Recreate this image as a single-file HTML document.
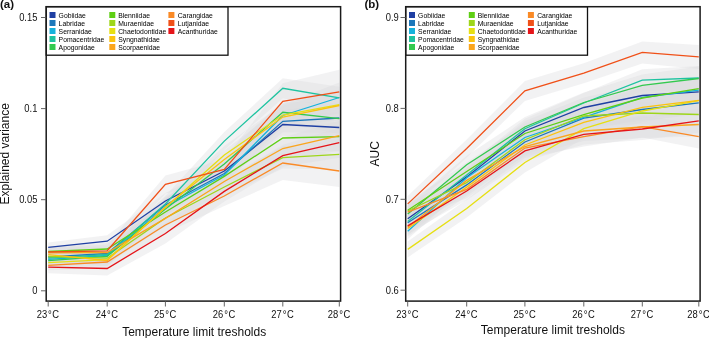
<!DOCTYPE html>
<html><head><meta charset="utf-8"><style>
html,body{margin:0;padding:0;background:#fff;}
svg{display:block;will-change:transform;filter:blur(0.3px);}
text{font-family:"Liberation Sans",sans-serif;fill:#1a1a1a;}
.lg{font-size:6.8px;fill:#000;}
.tl{font-size:10px;fill:#111;}
.at{font-size:12px;fill:#111;}
.pl{font-size:11.5px;font-weight:bold;fill:#111;}
.tk{stroke:#555;stroke-width:0.9;}
.bands polygon{fill:#dadbdf;fill-opacity:0.36;stroke:none;}
.ln polyline{fill:none;stroke-width:1.3;stroke-linejoin:miter;}
</style></head><body>
<svg width="709" height="338" viewBox="0 0 709 338">
<rect width="709" height="338" fill="#fff"/>

<g class="bands"><polygon points="48.2,242.4 107.2,235.2 165.4,193.0 224.3,162.0 282.8,113.5 339.3,112.5 339.3,142.5 282.8,135.5 224.3,180.0 165.4,209.0 107.2,247.2 48.2,252.4"/>
<polygon points="48.2,252.0 107.2,247.5 165.4,197.0 224.3,164.5 282.8,110.3 339.3,103.0 339.3,133.0 282.8,132.3 224.3,182.5 165.4,213.0 107.2,259.5 48.2,262.0"/>
<polygon points="48.2,254.4 107.2,249.5 165.4,199.0 224.3,166.0 282.8,104.5 339.3,82.5 339.3,112.5 282.8,126.5 224.3,184.0 165.4,215.0 107.2,261.5 48.2,264.4"/>
<polygon points="48.2,253.1 107.2,248.5 165.4,196.0 224.3,132.1 282.8,78.3 339.3,86.8 339.3,108.8 282.8,98.3 224.3,150.1 165.4,212.0 107.2,260.5 48.2,263.1"/>
<polygon points="48.2,255.7 107.2,250.3 165.4,201.0 224.3,155.0 282.8,101.3 339.3,103.7 339.3,133.7 282.8,123.3 224.3,173.0 165.4,217.0 107.2,262.3 48.2,265.7"/>
<polygon points="48.2,246.5 107.2,243.0 165.4,204.0 224.3,167.4 282.8,127.0 339.3,121.6 339.3,151.6 282.8,149.0 224.3,185.4 165.4,220.0 107.2,255.0 48.2,256.5"/>
<polygon points="48.2,251.5 107.2,252.2 165.4,210.0 224.3,178.0 282.8,146.6 339.3,139.4 339.3,169.4 282.8,168.6 224.3,196.0 165.4,226.0 107.2,264.2 48.2,261.5"/>
<polygon points="48.2,257.7 107.2,253.7 165.4,199.5 224.3,146.0 282.8,104.0 339.3,89.6 339.3,119.6 282.8,126.0 224.3,164.0 165.4,215.5 107.2,265.7 48.2,267.7"/>
<polygon points="48.2,249.6 107.2,254.5 165.4,199.0 224.3,150.4 282.8,106.0 339.3,90.5 339.3,120.5 282.8,128.0 224.3,168.4 165.4,215.0 107.2,266.5 48.2,259.6"/>
<polygon points="48.2,247.8 107.2,246.5 165.4,210.4 224.3,172.5 282.8,137.5 339.3,120.7 339.3,150.7 282.8,159.5 224.3,190.5 165.4,226.4 107.2,258.5 48.2,257.8"/>
<polygon points="48.2,260.3 107.2,256.0 165.4,217.0 224.3,186.0 282.8,146.0 339.3,155.0 339.3,187.0 282.8,180.0 224.3,206.0 165.4,233.0 107.2,268.0 48.2,270.3"/>
<polygon points="48.2,247.0 107.2,244.8 165.4,175.4 224.3,159.5 282.8,83.3 339.3,69.8 339.3,113.8 282.8,119.3 224.3,179.5 165.4,193.4 107.2,256.8 48.2,257.0"/>
<polygon points="48.2,261.2 107.2,261.5 165.4,223.5 224.3,181.4 282.8,144.7 339.3,127.7 339.3,157.7 282.8,166.7 224.3,201.4 165.4,243.5 107.2,275.5 48.2,273.2"/></g>
<g class="ln"><polyline points="48.2,247.4 107.2,241.2 165.4,201.0 224.3,171.0 282.8,124.5 339.3,127.5" stroke="#1f3fa3"/>
<polyline points="48.2,257.0 107.2,253.5 165.4,205.0 224.3,173.5 282.8,121.3 339.3,118.0" stroke="#1c77ba"/>
<polyline points="48.2,259.4 107.2,255.5 165.4,207.0 224.3,175.0 282.8,115.5 339.3,97.5" stroke="#16b2dc"/>
<polyline points="48.2,258.1 107.2,254.5 165.4,204.0 224.3,141.1 282.8,88.3 339.3,97.8" stroke="#1ec3a0"/>
<polyline points="48.2,260.7 107.2,256.3 165.4,209.0 224.3,164.0 282.8,112.3 339.3,118.7" stroke="#33c94f"/>
<polyline points="48.2,251.5 107.2,249.0 165.4,212.0 224.3,176.4 282.8,138.0 339.3,136.6" stroke="#5ecf14"/>
<polyline points="48.2,256.5 107.2,258.2 165.4,218.0 224.3,187.0 282.8,157.6 339.3,154.4" stroke="#9ed61a"/>
<polyline points="48.2,262.7 107.2,259.7 165.4,207.5 224.3,155.0 282.8,115.0 339.3,104.6" stroke="#e6df12"/>
<polyline points="48.2,254.6 107.2,260.5 165.4,207.0 224.3,159.4 282.8,117.0 339.3,105.5" stroke="#fbc30e"/>
<polyline points="48.2,252.8 107.2,252.5 165.4,218.4 224.3,181.5 282.8,148.5 339.3,135.7" stroke="#fba51c"/>
<polyline points="48.2,265.3 107.2,262.0 165.4,225.0 224.3,196.0 282.8,163.0 339.3,171.0" stroke="#fa8a26"/>
<polyline points="48.2,252.0 107.2,250.8 165.4,184.4 224.3,169.5 282.8,101.3 339.3,91.8" stroke="#f05018"/>
<polyline points="48.2,267.2 107.2,268.5 165.4,233.5 224.3,191.4 282.8,155.7 339.3,142.7" stroke="#e51419"/></g>
<rect x="46.2" y="6.7" width="181.8" height="48.5" fill="#fff" stroke="#111" stroke-width="1.3"/>
<rect x="49.5" y="12.0" width="6" height="6" fill="#1f3fa3"/>
<text transform="translate(58.6,17.6) scale(1,1)" class="lg">Gobiidae</text>
<rect x="49.5" y="20.0" width="6" height="6" fill="#1c77ba"/>
<text transform="translate(58.6,25.6) scale(1,1)" class="lg">Labridae</text>
<rect x="49.5" y="28.0" width="6" height="6" fill="#16b2dc"/>
<text transform="translate(58.6,33.6) scale(1,1)" class="lg">Serranidae</text>
<rect x="49.5" y="36.0" width="6" height="6" fill="#1ec3a0"/>
<text transform="translate(58.6,41.6) scale(1,1)" class="lg">Pomacentridae</text>
<rect x="49.5" y="44.0" width="6" height="6" fill="#33c94f"/>
<text transform="translate(58.6,49.6) scale(1,1)" class="lg">Apogonidae</text>
<rect x="109.3" y="12.0" width="6" height="6" fill="#5ecf14"/>
<text transform="translate(118.2,17.6) scale(1,1)" class="lg">Blenniidae</text>
<rect x="109.3" y="20.0" width="6" height="6" fill="#9ed61a"/>
<text transform="translate(118.2,25.6) scale(1,1)" class="lg">Muraenidae</text>
<rect x="109.3" y="28.0" width="6" height="6" fill="#e6df12"/>
<text transform="translate(118.2,33.6) scale(1,1)" class="lg">Chaetodontidae</text>
<rect x="109.3" y="36.0" width="6" height="6" fill="#fbc30e"/>
<text transform="translate(118.2,41.6) scale(1,1)" class="lg">Syngnathidae</text>
<rect x="109.3" y="44.0" width="6" height="6" fill="#fba51c"/>
<text transform="translate(118.2,49.6) scale(1,1)" class="lg">Scorpaenidae</text>
<rect x="168.4" y="12.0" width="6" height="6" fill="#fa8a26"/>
<text transform="translate(177.7,17.6) scale(1,1)" class="lg">Carangidae</text>
<rect x="168.4" y="20.0" width="6" height="6" fill="#f05018"/>
<text transform="translate(177.7,25.6) scale(1,1)" class="lg">Lutjanidae</text>
<rect x="168.4" y="28.0" width="6" height="6" fill="#e51419"/>
<text transform="translate(177.7,33.6) scale(1,1)" class="lg">Acanthuridae</text>
<rect x="46.2" y="6.7" width="294.4" height="294.4" fill="none" stroke="#1a1a1a" stroke-width="1.5"/>
<line x1="48.2" y1="301" x2="48.2" y2="306.5" class="tk"/>
<text transform="translate(47.9,317.6) scale(0.94,1)" class="tl" text-anchor="middle">23<tspan dx="1.0">°</tspan><tspan dx="0.5">C</tspan></text>
<line x1="107.2" y1="301" x2="107.2" y2="306.5" class="tk"/>
<text transform="translate(106.9,317.6) scale(0.94,1)" class="tl" text-anchor="middle">24<tspan dx="1.0">°</tspan><tspan dx="0.5">C</tspan></text>
<line x1="165.4" y1="301" x2="165.4" y2="306.5" class="tk"/>
<text transform="translate(165.1,317.6) scale(0.94,1)" class="tl" text-anchor="middle">25<tspan dx="1.0">°</tspan><tspan dx="0.5">C</tspan></text>
<line x1="224.3" y1="301" x2="224.3" y2="306.5" class="tk"/>
<text transform="translate(224.0,317.6) scale(0.94,1)" class="tl" text-anchor="middle">26<tspan dx="1.0">°</tspan><tspan dx="0.5">C</tspan></text>
<line x1="282.8" y1="301" x2="282.8" y2="306.5" class="tk"/>
<text transform="translate(282.5,317.6) scale(0.94,1)" class="tl" text-anchor="middle">27<tspan dx="1.0">°</tspan><tspan dx="0.5">C</tspan></text>
<line x1="339.3" y1="301" x2="339.3" y2="306.5" class="tk"/>
<text transform="translate(339.0,317.6) scale(0.94,1)" class="tl" text-anchor="middle">28<tspan dx="1.0">°</tspan><tspan dx="0.5">C</tspan></text>
<line x1="41.0" y1="17.5" x2="46.2" y2="17.5" class="tk"/>
<text transform="translate(37.4,21.1) scale(0.94,1)" class="tl" text-anchor="end">0.15</text>
<line x1="41.0" y1="108.6" x2="46.2" y2="108.6" class="tk"/>
<text transform="translate(37.4,112.2) scale(0.94,1)" class="tl" text-anchor="end">0.1</text>
<line x1="41.0" y1="199.7" x2="46.2" y2="199.7" class="tk"/>
<text transform="translate(37.4,203.3) scale(0.94,1)" class="tl" text-anchor="end">0.05</text>
<line x1="41.0" y1="290.8" x2="46.2" y2="290.8" class="tk"/>
<text transform="translate(37.4,294.4) scale(0.94,1)" class="tl" text-anchor="end">0</text>
<text x="194.2" y="335.8" class="at" text-anchor="middle">Temperature limit tresholds</text>
<text transform="translate(9.0,153.8) rotate(-90)" class="at" text-anchor="middle">Explained variance</text>
<text x="0.0" y="8.3" class="pl">(a)</text>


<g class="bands"><polygon points="407.7,210.8 466.7,167.9 524.9,121.0 583.8,97.5 642.3,84.5 698.8,79.8 698.8,103.8 642.3,106.5 583.8,117.5 524.9,141.0 466.7,185.9 407.7,226.8"/>
<polygon points="407.7,214.7 466.7,175.9 524.9,132.0 583.8,108.2 642.3,98.5 698.8,90.8 698.8,114.8 642.3,120.5 583.8,128.2 524.9,152.0 466.7,193.9 407.7,230.7"/>
<polygon points="407.7,223.2 466.7,168.8 524.9,127.5 583.8,107.3 642.3,86.5 698.8,78.2 698.8,102.2 642.3,108.5 583.8,127.3 524.9,147.5 466.7,186.8 407.7,239.2"/>
<polygon points="407.7,213.4 466.7,166.1 524.9,118.7 583.8,93.0 642.3,69.2 698.8,66.0 698.8,90.0 642.3,91.2 583.8,113.0 524.9,138.7 466.7,184.1 407.7,229.4"/>
<polygon points="407.7,205.9 466.7,155.7 524.9,117.0 583.8,92.5 642.3,74.4 698.8,66.5 698.8,90.5 642.3,96.4 583.8,112.5 524.9,137.0 466.7,173.7 407.7,221.9"/>
<polygon points="407.7,202.3 466.7,162.5 524.9,123.5 583.8,104.6 642.3,87.0 698.8,76.7 698.8,100.7 642.3,109.0 583.8,124.6 524.9,143.5 466.7,180.5 407.7,218.3"/>
<polygon points="407.7,203.0 466.7,173.6 524.9,129.7 583.8,106.0 642.3,102.0 698.8,102.5 698.8,126.5 642.3,124.0 583.8,126.0 524.9,149.7 466.7,191.6 407.7,219.0"/>
<polygon points="407.7,241.4 466.7,199.6 524.9,152.5 583.8,118.6 642.3,100.0 698.8,88.7 698.8,112.7 642.3,122.0 583.8,138.6 524.9,172.5 466.7,217.6 407.7,257.4"/>
<polygon points="407.7,220.5 466.7,178.1 524.9,135.0 583.8,112.4 642.3,96.3 698.8,88.3 698.8,112.3 642.3,118.3 583.8,132.4 524.9,155.0 466.7,196.1 407.7,236.5"/>
<polygon points="407.7,219.2 466.7,171.4 524.9,136.5 583.8,121.0 642.3,116.0 698.8,112.5 698.8,136.5 642.3,138.0 583.8,141.0 524.9,156.5 466.7,189.4 407.7,235.2"/>
<polygon points="407.7,204.1 466.7,180.3 524.9,138.0 583.8,126.6 642.3,115.6 698.8,124.6 698.8,148.6 642.3,137.6 583.8,146.6 524.9,158.0 466.7,198.3 407.7,220.1"/>
<polygon points="407.7,195.9 466.7,139.5 524.9,80.9 583.8,63.2 642.3,41.4 698.8,44.9 698.8,68.9 642.3,63.4 583.8,83.2 524.9,100.9 466.7,157.5 407.7,211.9"/>
<polygon points="407.7,217.9 466.7,182.0 524.9,140.9 583.8,124.4 642.3,118.0 698.8,108.8 698.8,132.8 642.3,140.0 583.8,144.4 524.9,160.9 466.7,200.0 407.7,233.9"/></g>
<g class="ln"><polyline points="407.7,218.8 466.7,176.9 524.9,131.0 583.8,107.5 642.3,95.5 698.8,91.8" stroke="#1f3fa3"/>
<polyline points="407.7,222.7 466.7,184.9 524.9,142.0 583.8,118.2 642.3,109.5 698.8,102.8" stroke="#1c77ba"/>
<polyline points="407.7,231.2 466.7,177.8 524.9,137.5 583.8,117.3 642.3,97.5 698.8,90.2" stroke="#16b2dc"/>
<polyline points="407.7,221.4 466.7,175.1 524.9,128.7 583.8,103.0 642.3,80.2 698.8,78.0" stroke="#1ec3a0"/>
<polyline points="407.7,213.9 466.7,164.7 524.9,127.0 583.8,102.5 642.3,85.4 698.8,78.5" stroke="#33c94f"/>
<polyline points="407.7,210.3 466.7,171.5 524.9,133.5 583.8,114.6 642.3,98.0 698.8,88.7" stroke="#5ecf14"/>
<polyline points="407.7,211.0 466.7,182.6 524.9,139.7 583.8,116.0 642.3,113.0 698.8,114.5" stroke="#9ed61a"/>
<polyline points="407.7,249.4 466.7,208.6 524.9,162.5 583.8,128.6 642.3,111.0 698.8,100.7" stroke="#e6df12"/>
<polyline points="407.7,228.5 466.7,187.1 524.9,145.0 583.8,122.4 642.3,107.3 698.8,100.3" stroke="#fbc30e"/>
<polyline points="407.7,227.2 466.7,180.4 524.9,146.5 583.8,131.0 642.3,127.0 698.8,124.5" stroke="#fba51c"/>
<polyline points="407.7,212.1 466.7,189.3 524.9,148.0 583.8,136.6 642.3,126.6 698.8,136.6" stroke="#fa8a26"/>
<polyline points="407.7,203.9 466.7,148.5 524.9,90.9 583.8,73.2 642.3,52.4 698.8,56.9" stroke="#f05018"/>
<polyline points="407.7,225.9 466.7,191.0 524.9,150.9 583.8,134.4 642.3,129.0 698.8,120.8" stroke="#e51419"/></g>
<rect x="405.7" y="6.7" width="181.8" height="48.5" fill="#fff" stroke="#111" stroke-width="1.3"/>
<rect x="409.0" y="12.0" width="6" height="6" fill="#1f3fa3"/>
<text transform="translate(418.1,17.6) scale(1,1)" class="lg">Gobiidae</text>
<rect x="409.0" y="20.0" width="6" height="6" fill="#1c77ba"/>
<text transform="translate(418.1,25.6) scale(1,1)" class="lg">Labridae</text>
<rect x="409.0" y="28.0" width="6" height="6" fill="#16b2dc"/>
<text transform="translate(418.1,33.6) scale(1,1)" class="lg">Serranidae</text>
<rect x="409.0" y="36.0" width="6" height="6" fill="#1ec3a0"/>
<text transform="translate(418.1,41.6) scale(1,1)" class="lg">Pomacentridae</text>
<rect x="409.0" y="44.0" width="6" height="6" fill="#33c94f"/>
<text transform="translate(418.1,49.6) scale(1,1)" class="lg">Apogonidae</text>
<rect x="468.8" y="12.0" width="6" height="6" fill="#5ecf14"/>
<text transform="translate(477.7,17.6) scale(1,1)" class="lg">Blenniidae</text>
<rect x="468.8" y="20.0" width="6" height="6" fill="#9ed61a"/>
<text transform="translate(477.7,25.6) scale(1,1)" class="lg">Muraenidae</text>
<rect x="468.8" y="28.0" width="6" height="6" fill="#e6df12"/>
<text transform="translate(477.7,33.6) scale(1,1)" class="lg">Chaetodontidae</text>
<rect x="468.8" y="36.0" width="6" height="6" fill="#fbc30e"/>
<text transform="translate(477.7,41.6) scale(1,1)" class="lg">Syngnathidae</text>
<rect x="468.8" y="44.0" width="6" height="6" fill="#fba51c"/>
<text transform="translate(477.7,49.6) scale(1,1)" class="lg">Scorpaenidae</text>
<rect x="527.9" y="12.0" width="6" height="6" fill="#fa8a26"/>
<text transform="translate(537.2,17.6) scale(1,1)" class="lg">Carangidae</text>
<rect x="527.9" y="20.0" width="6" height="6" fill="#f05018"/>
<text transform="translate(537.2,25.6) scale(1,1)" class="lg">Lutjanidae</text>
<rect x="527.9" y="28.0" width="6" height="6" fill="#e51419"/>
<text transform="translate(537.2,33.6) scale(1,1)" class="lg">Acanthuridae</text>
<rect x="405.7" y="6.7" width="294.4" height="294.4" fill="none" stroke="#1a1a1a" stroke-width="1.5"/>
<line x1="407.7" y1="301" x2="407.7" y2="306.5" class="tk"/>
<text transform="translate(407.4,317.6) scale(0.94,1)" class="tl" text-anchor="middle">23<tspan dx="1.0">°</tspan><tspan dx="0.5">C</tspan></text>
<line x1="466.7" y1="301" x2="466.7" y2="306.5" class="tk"/>
<text transform="translate(466.4,317.6) scale(0.94,1)" class="tl" text-anchor="middle">24<tspan dx="1.0">°</tspan><tspan dx="0.5">C</tspan></text>
<line x1="524.9" y1="301" x2="524.9" y2="306.5" class="tk"/>
<text transform="translate(524.6,317.6) scale(0.94,1)" class="tl" text-anchor="middle">25<tspan dx="1.0">°</tspan><tspan dx="0.5">C</tspan></text>
<line x1="583.8" y1="301" x2="583.8" y2="306.5" class="tk"/>
<text transform="translate(583.5,317.6) scale(0.94,1)" class="tl" text-anchor="middle">26<tspan dx="1.0">°</tspan><tspan dx="0.5">C</tspan></text>
<line x1="642.3" y1="301" x2="642.3" y2="306.5" class="tk"/>
<text transform="translate(642.0,317.6) scale(0.94,1)" class="tl" text-anchor="middle">27<tspan dx="1.0">°</tspan><tspan dx="0.5">C</tspan></text>
<line x1="698.8" y1="301" x2="698.8" y2="306.5" class="tk"/>
<text transform="translate(698.5,317.6) scale(0.94,1)" class="tl" text-anchor="middle">28<tspan dx="1.0">°</tspan><tspan dx="0.5">C</tspan></text>
<line x1="400.5" y1="17.5" x2="405.7" y2="17.5" class="tk"/>
<text transform="translate(398.8,21.1) scale(0.94,1)" class="tl" text-anchor="end">0.9</text>
<line x1="400.5" y1="108.4" x2="405.7" y2="108.4" class="tk"/>
<text transform="translate(398.8,112.0) scale(0.94,1)" class="tl" text-anchor="end">0.8</text>
<line x1="400.5" y1="199.3" x2="405.7" y2="199.3" class="tk"/>
<text transform="translate(398.8,202.9) scale(0.94,1)" class="tl" text-anchor="end">0.7</text>
<line x1="400.5" y1="290.2" x2="405.7" y2="290.2" class="tk"/>
<text transform="translate(398.8,293.8) scale(0.94,1)" class="tl" text-anchor="end">0.6</text>
<text x="552.9" y="333.8" class="at" text-anchor="middle">Temperature limit tresholds</text>
<text transform="translate(379.0,153.8) rotate(-90)" class="at" text-anchor="middle">AUC</text>
<text x="364.4" y="8.3" class="pl">(b)</text>

</svg>
</body></html>
